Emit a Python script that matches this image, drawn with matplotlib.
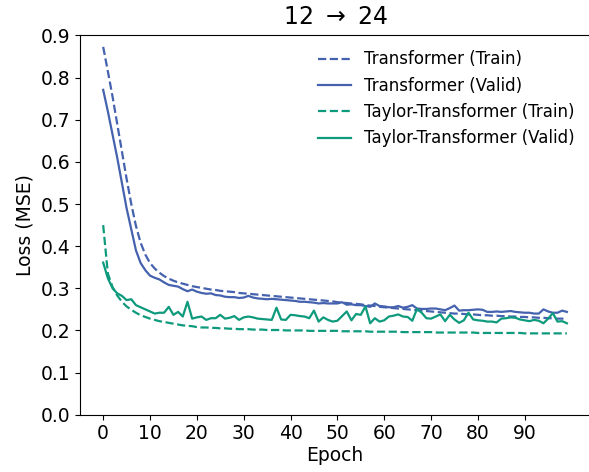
import matplotlib
matplotlib.use("Agg")
import matplotlib.pyplot as plt
import numpy as np

epochs = list(range(100))

transformer_train = [
    0.873, 0.815, 0.755, 0.690, 0.625, 0.560, 0.500, 0.448, 0.408, 0.380,
    0.360, 0.347, 0.337, 0.329, 0.323, 0.318, 0.314, 0.311, 0.308, 0.305,
    0.303, 0.301, 0.299, 0.297, 0.296, 0.294, 0.293, 0.292, 0.291, 0.289,
    0.288, 0.287, 0.286, 0.285, 0.284, 0.283, 0.282, 0.281, 0.280, 0.279,
    0.278, 0.277, 0.276, 0.275, 0.274, 0.273, 0.272, 0.271, 0.270, 0.269,
    0.267, 0.266, 0.265, 0.264, 0.263, 0.262, 0.260, 0.259, 0.258, 0.256,
    0.255, 0.254, 0.253, 0.252, 0.251, 0.250, 0.249, 0.248, 0.247, 0.246,
    0.245, 0.244, 0.243, 0.242, 0.241, 0.240, 0.240, 0.239, 0.238, 0.238,
    0.237, 0.236, 0.236, 0.235, 0.235, 0.234, 0.234, 0.233, 0.233, 0.232,
    0.232, 0.231, 0.231, 0.230, 0.230, 0.229, 0.229, 0.228, 0.228, 0.227,
]

transformer_valid = [
    0.771, 0.720, 0.665, 0.610, 0.550, 0.490, 0.440, 0.390, 0.360, 0.343,
    0.330, 0.325, 0.321, 0.314, 0.308, 0.306, 0.304, 0.298, 0.293, 0.297,
    0.292, 0.289, 0.287, 0.288, 0.284, 0.283, 0.280, 0.279, 0.279, 0.277,
    0.278, 0.282, 0.278, 0.276, 0.275, 0.274, 0.275, 0.274, 0.273, 0.272,
    0.271, 0.270, 0.268, 0.268, 0.267, 0.266, 0.264, 0.265, 0.264, 0.264,
    0.264, 0.267, 0.261, 0.262, 0.260, 0.260, 0.258, 0.256, 0.264, 0.258,
    0.257, 0.255, 0.255, 0.258, 0.254, 0.256, 0.260, 0.252, 0.251, 0.251,
    0.252, 0.252, 0.250, 0.248, 0.253, 0.259, 0.247, 0.248, 0.248, 0.249,
    0.250, 0.249, 0.244, 0.244, 0.245, 0.244, 0.245, 0.246, 0.244, 0.243,
    0.242, 0.242, 0.240, 0.240, 0.250, 0.245, 0.242, 0.242, 0.247, 0.244,
]

taylor_train = [
    0.450, 0.335, 0.303, 0.283, 0.268, 0.257, 0.249, 0.242, 0.236, 0.232,
    0.228, 0.225, 0.222, 0.220, 0.218, 0.216, 0.214, 0.212, 0.211, 0.210,
    0.208, 0.207, 0.207, 0.206, 0.206, 0.205, 0.205, 0.204, 0.204, 0.203,
    0.203, 0.203, 0.202, 0.202, 0.202, 0.201, 0.201, 0.201, 0.201, 0.200,
    0.200, 0.200, 0.200, 0.200, 0.199, 0.199, 0.199, 0.199, 0.199, 0.199,
    0.199, 0.198, 0.198, 0.198, 0.198, 0.198, 0.198, 0.197, 0.197, 0.197,
    0.197, 0.197, 0.197, 0.197, 0.196, 0.196, 0.196, 0.196, 0.196, 0.196,
    0.196, 0.195, 0.195, 0.195, 0.195, 0.195, 0.195, 0.195, 0.195, 0.195,
    0.194, 0.194, 0.194, 0.194, 0.194, 0.194, 0.194, 0.194, 0.194, 0.194,
    0.193, 0.193, 0.193, 0.193, 0.193, 0.193, 0.193, 0.193, 0.193, 0.193,
]

taylor_valid = [
    0.361, 0.324, 0.300, 0.288, 0.282, 0.272, 0.274, 0.260, 0.255, 0.250,
    0.245, 0.240, 0.242, 0.242, 0.256, 0.237, 0.244, 0.233, 0.268, 0.228,
    0.231, 0.233, 0.225, 0.229, 0.229, 0.237, 0.228, 0.230, 0.234, 0.225,
    0.231, 0.233, 0.231, 0.228, 0.227, 0.226, 0.225, 0.254, 0.226, 0.225,
    0.237, 0.236, 0.234, 0.233, 0.229, 0.247, 0.221, 0.231, 0.225, 0.221,
    0.223, 0.234, 0.245, 0.224, 0.239, 0.237, 0.257, 0.217, 0.229, 0.221,
    0.224, 0.233, 0.235, 0.238, 0.233, 0.232, 0.223, 0.251, 0.242, 0.229,
    0.228, 0.233, 0.238, 0.222, 0.237, 0.226, 0.218, 0.224, 0.242, 0.226,
    0.224, 0.223, 0.221, 0.221, 0.219, 0.228, 0.229, 0.231, 0.230, 0.226,
    0.224, 0.222, 0.225, 0.223, 0.217, 0.228, 0.241, 0.221, 0.222, 0.217,
]

labels = ["Transformer (Train)", "Transformer (Valid)",
          "Taylor-Transformer (Train)", "Taylor-Transformer (Valid)"]
blue = "#4562ae"
green = "#0e9a7c"

fig = plt.figure(figsize=(5.89, 4.72), dpi=100)
ax = fig.add_axes([0.1358, 0.1214, 0.8660, 0.8034])

ax.plot(epochs, transformer_train, "--", color=blue, lw=1.6, label=labels[0])
ax.plot(epochs, transformer_valid, "-", color=blue, lw=1.6, label=labels[1])
ax.plot(epochs, taylor_train, "--", color=green, lw=1.6, label=labels[2])
ax.plot(epochs, taylor_valid, "-", color=green, lw=1.6, label=labels[3])

ax.set_ylim(0, 0.9)
ax.set_yticks(np.arange(0, 0.91, 0.1))
ax.set_xticks(range(0, 91, 10))
ax.tick_params(labelsize=13.5)
ax.set_xlabel("Epoch", fontsize=13.5, labelpad=2)
ax.set_ylabel("Loss (MSE)", fontsize=13.5)
ax.set_title("12 $\\rightarrow$ 24", fontsize=17, pad=8)
ax.legend(loc="upper right", frameon=False, fontsize=12)

fig.savefig("out.png", dpi=100)
